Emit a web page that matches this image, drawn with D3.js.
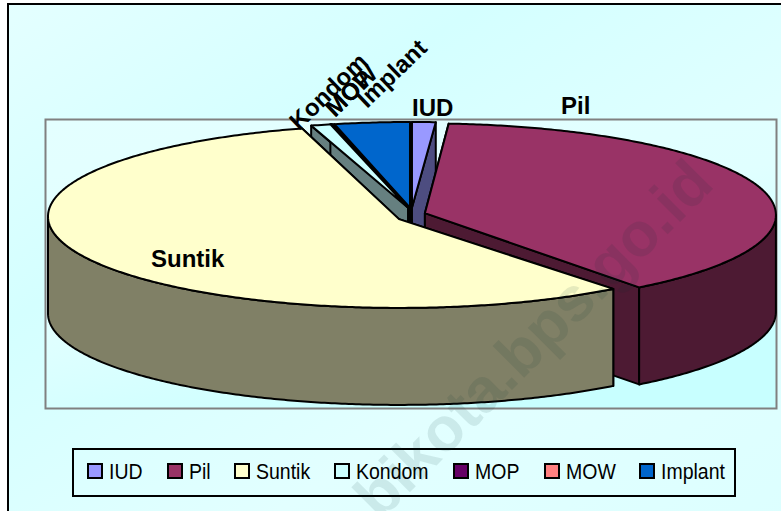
<!DOCTYPE html>
<html>
<head>
<meta charset="utf-8">
<script src="https://cdn.jsdelivr.net/npm/d3@7"></script>
<style>
  html, body { margin: 0; padding: 0; background: #fff; overflow: hidden; }
  text { font-family: "Liberation Sans", Arial, sans-serif; }
</style>
</head>
<body>
<svg id="chart" width="781" height="511"></svg>
<script>
// values, in percent
const categories = ["IUD", "Pil", "Suntik", "Kondom", "MOP", "MOW", "Implant"];
const shares = [1.08, 38.47, 56.0, 0.9, 0.02, 0.08, 3.45];
const colours = ["#9999ff", "#993366", "#ffffcc", "#ccffff", "#660066", "#ff8080", "#0066cc"];
const wallColours = ["#4d4d80", "#4d1a33", "#808066", "#668080", "#330033", "#804040", "#003366"];

// pie geometry, the tilt makes the apex move more than the rim when exploded
const cx = 411.5, cy = 215.5, rx = 351, ry = 91.5, depth = 97;
const explodeX = 14, explodeApexY = 8, explodeRimY = 2;

const svg = d3.select("#chart");
const defs = svg.append("defs");

let outerGrad = defs.append("linearGradient").attr("id", "outerBg")
  .attr("x1", 0).attr("y1", 0).attr("x2", 1).attr("y2", 1);
outerGrad.append("stop").attr("offset", "0%").attr("stop-color", "#e4ffff");
outerGrad.append("stop").attr("offset", "30%").attr("stop-color", "#d4ffff");
outerGrad.append("stop").attr("offset", "65%").attr("stop-color", "#e2ffff");
outerGrad.append("stop").attr("offset", "100%").attr("stop-color", "#dcffff");

let plotGrad = defs.append("linearGradient").attr("id", "plotBg")
  .attr("x1", 0).attr("y1", 0).attr("x2", 0.6).attr("y2", 1);
plotGrad.append("stop").attr("offset", "0%").attr("stop-color", "#e4ffff");
plotGrad.append("stop").attr("offset", "55%").attr("stop-color", "#e0ffff");
plotGrad.append("stop").attr("offset", "100%").attr("stop-color", "#c8ffff");

// chart background and frame, right and bottom sides run off the page
svg.append("rect")
  .attr("x", 8).attr("y", 4).attr("width", 790).attr("height", 530)
  .attr("fill", "url(#outerBg)").attr("stroke", "#000").attr("stroke-width", 2);

// plot area
svg.append("rect")
  .attr("x", 45.5).attr("y", 119.5).attr("width", 731).attr("height", 289)
  .attr("fill", "url(#plotBg)").attr("stroke", "#808080").attr("stroke-width", 2);

const slices = d3.pie().sort(null).startAngle(0).endAngle(2 * Math.PI)(shares)
  .map((d, i) => {
    let mid = (d.startAngle + d.endAngle) / 2;
    return {
      i: i,
      a: d.startAngle,
      b: d.endAngle,
      mid: mid,
      x: cx + explodeX * Math.sin(mid),
      y: cy - explodeApexY * Math.cos(mid),
      rimY: cy - explodeRimY * Math.cos(mid)
    };
  });

const rim = (s, t) => [s.x + rx * Math.sin(t), s.rimY - ry * Math.cos(t)];
const down = (p) => [p[0], p[1] + depth];
const arcPoints = (s, a, b) => {
  let pts = d3.range(a, b, 0.01).map(t => rim(s, t));
  pts.push(rim(s, b));
  return pts;
};
const line = d3.line();

const pieG = svg.append("g")
  .attr("stroke", "#000").attr("stroke-width", 2).attr("stroke-linejoin", "round");

// back slices first, so the front ones cover them
slices.slice().sort((p, q) => Math.cos(q.mid) - Math.cos(p.mid)).forEach(s => {
  let c = [s.x, s.y];
  [s.a, s.b].forEach(t => {
    let e = rim(s, t);
    pieG.append("path")
      .attr("d", line([c, e, down(e), down(c)]) + "Z")
      .attr("fill", wallColours[s.i]);
  });
  // outer wall only on the front half of the ellipse
  let from = Math.max(s.a, Math.PI / 2), to = Math.min(s.b, 3 * Math.PI / 2);
  if (to > from) {
    let top = arcPoints(s, from, to);
    pieG.append("path")
      .attr("d", line(top.concat(top.map(down).reverse())) + "Z")
      .attr("fill", wallColours[s.i]);
  }
  pieG.append("path")
    .attr("d", line([c].concat(arcPoints(s, s.a, s.b))) + "Z")
    .attr("fill", colours[s.i]);
});

// data labels
const labelSpots = [
  { name: "IUD", x: 412, y: 116, angle: 0 },
  { name: "Pil", x: 561, y: 114, angle: 0 },
  { name: "Suntik", x: 151, y: 267, angle: 0 },
  { name: "Kondom", x: 299, y: 131, angle: -44 },
  { name: "MOP", x: 335, y: 118, angle: -44 },
  { name: "MOW", x: 335, y: 118, angle: -44 },
  { name: "Implant", x: 367, y: 109, angle: -44 }
];
svg.append("g").selectAll("text").data(labelSpots).join("text")
  .attr("transform", d => `translate(${d.x},${d.y}) rotate(${d.angle})`)
  .attr("font-size", 24).attr("font-weight", "bold").attr("fill", "#000")
  .text(d => d.name);

// legend
svg.append("rect")
  .attr("x", 73).attr("y", 449).attr("width", 662).attr("height", 47)
  .attr("fill", "none").attr("stroke", "#000").attr("stroke-width", 2);

const legendX = d3.scaleOrdinal().domain(categories)
  .range([88, 168, 235, 335, 454, 545, 640]);
const legend = svg.append("g").selectAll("g").data(categories).join("g")
  .attr("transform", d => `translate(${legendX(d)},464)`);
legend.append("rect")
  .attr("width", 14).attr("height", 14)
  .attr("fill", (d, i) => colours[i])
  .attr("stroke", "#000").attr("stroke-width", 2);
legend.append("text")
  .attr("transform", "translate(21,15) scale(0.87,1)")
  .attr("font-size", 22.4).attr("fill", "#000")
  .text(d => d);

// watermark over everything
svg.append("text")
  .attr("transform", "translate(716,186) rotate(-45)")
  .attr("text-anchor", "end")
  .attr("font-size", 62).attr("font-weight", "bold")
  .attr("fill", "#003030").attr("fill-opacity", 0.1)
  .text("bikota.bps.go.id");
</script>
</body>
</html>
